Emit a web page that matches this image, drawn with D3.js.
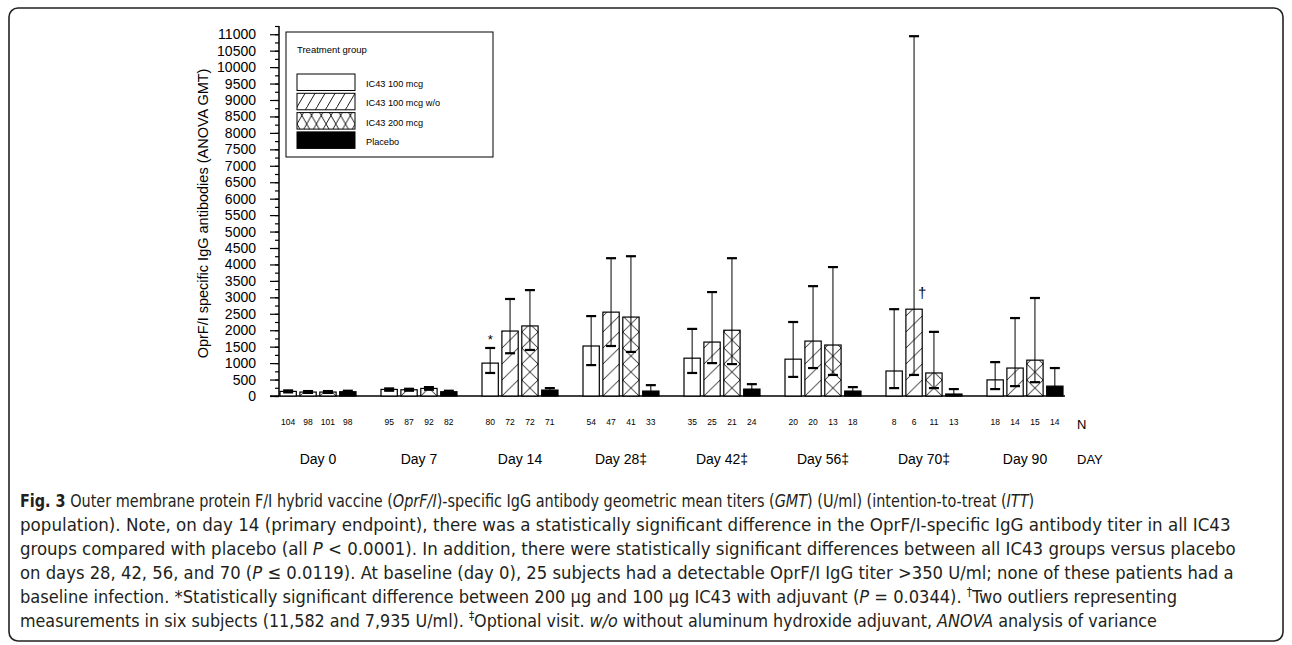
<!DOCTYPE html>
<html>
<head>
<meta charset="utf-8">
<script src="https://cdn.jsdelivr.net/npm/d3@7"></script>
<style>
  html, body { margin: 0; padding: 0; background: #fff; }
  svg { display: block; }
  .chart text { font-family: "Liberation Sans", Arial, sans-serif; fill: #000; }
  .caption text { font-family: "Liberation Sans Narrow", "DejaVu Sans Condensed", sans-serif; fill: #231f20; }
</style>
</head>
<body>
<svg id="fig" width="1292" height="645"></svg>
<script>
// days on the x axis, treatment groups inside each day
const days = ["Day 0", "Day 7", "Day 14", "Day 28\u2021", "Day 42\u2021", "Day 56\u2021", "Day 70\u2021", "Day 90"];
const groups = ["IC43 100 mcg", "IC43 100 mcg w/o", "IC43 200 mcg", "Placebo"];

// GMT (U/ml) per group, one value per day
const gmt100 = [140, 200, 1000, 1520, 1150, 1120, 760, 490];
const gmt100wo = [120, 190, 1975, 2550, 1640, 1670, 2640, 850];
const gmt200 = [120, 230, 2130, 2400, 2000, 1550, 700, 1090];
const gmtPlacebo = [130, 130, 180, 150, 210, 150, 60, 300];

// upper / lower ends of the error bars
const hi100 = [170, 230, 1460, 2430, 2040, 2250, 2640, 1030];
const lo100 = [110, 160, 700, 940, 700, 580, 240, 210];
const hi100wo = [150, 220, 2950, 4190, 3160, 3340, 10940, 2370];
const lo100wo = [95, 160, 1300, 1520, 1000, 850, 640, 300];
const hi200 = [150, 270, 3220, 4250, 4190, 3920, 1950, 2980];
const lo200 = [95, 190, 1400, 1340, 970, 640, 240, 420];
const hiPlacebo = [160, 160, 240, 330, 360, 270, 210, 850];
const loPlacebo = [100, 100, 130, 80, 130, 90, 20, 100];

// subjects per bar
const n100 = [104, 95, 80, 54, 35, 20, 8, 18];
const n100wo = [98, 87, 72, 47, 25, 20, 6, 14];
const n200 = [101, 92, 72, 41, 21, 13, 11, 15];
const nPlacebo = [98, 82, 71, 33, 24, 18, 13, 14];

const yTicks = d3.range(0, 11001, 500);
const yMinor = d3.range(0, 11251, 250);

const series = [
  { key: groups[0], fill: "plain", mean: gmt100, hi: hi100, lo: lo100, n: n100 },
  { key: groups[1], fill: "hatch", mean: gmt100wo, hi: hi100wo, lo: lo100wo, n: n100wo },
  { key: groups[2], fill: "cross", mean: gmt200, hi: hi200, lo: lo200, n: n200 },
  { key: groups[3], fill: "solid", mean: gmtPlacebo, hi: hiPlacebo, lo: loPlacebo, n: nPlacebo }
];

const svg = d3.select("#fig");
const defs = svg.append("defs");

// outer frame of the figure
svg.append("rect")
  .attr("x", 9).attr("y", 8).attr("width", 1274).attr("height", 633)
  .attr("rx", 9).attr("fill", "none").attr("stroke", "#222").attr("stroke-width", 1.6);

const chart = svg.append("g").attr("class", "chart")
  .attr("font-family", "Liberation Sans, Arial, sans-serif");

const y = d3.scaleLinear().domain([0, 11250]).range([396, 26]);
const x0 = d3.scaleBand().domain(days).range([280, 1065]).paddingInner(0.2277);
const x1 = d3.scaleBand().domain(groups).range([0, 76]).paddingInner(0.18);

// y axis: labelled ticks every 500, short ticks every 250
const axisX = 279;
chart.append("g")
  .attr("transform", `translate(${axisX},0)`)
  .call(d3.axisLeft(y).tickValues(yMinor).tickSize(4).tickFormat(""))
  .call((g) => g.select(".domain").remove())
  .selectAll("line").attr("stroke", "#000").attr("stroke-width", 1.2);

const yAxis = chart.append("g")
  .attr("transform", `translate(${axisX},0)`)
  .call(d3.axisLeft(y).tickValues(yTicks).tickSize(9).tickPadding(14)
    .tickSizeOuter(0).tickFormat(d3.format("d")));
yAxis.attr("font-family", null);
yAxis.select(".domain").attr("stroke", "#000").attr("stroke-width", 1.5)
  .attr("d", `M0,${y(11250)}V${y(0)}`);
yAxis.selectAll(".tick line").attr("stroke", "#000").attr("stroke-width", 1.2);
yAxis.selectAll(".tick text").attr("font-size", 14).attr("fill", "#000");

chart.append("text")
  .attr("transform", `translate(208,${y(5550)}) rotate(-90)`)
  .attr("text-anchor", "middle")
  .attr("font-size", 14.5)
  .text("OprF/I specific IgG antibodies (ANOVA GMT)");

// baseline
chart.append("line")
  .attr("x1", 270).attr("x2", 1065).attr("y1", y(0)).attr("y2", y(0))
  .attr("stroke", "#000").attr("stroke-width", 1.5);

// one pattern per hatched bar, so the motif starts at the bar's left edge
function addPattern(id, type, px, w, h) {
  const p = defs.append("pattern")
    .attr("id", id).attr("patternUnits", "userSpaceOnUse")
    .attr("x", px).attr("y", y(0)).attr("width", w).attr("height", h);
  p.append("rect").attr("width", w).attr("height", h).attr("fill", "#fff");
  const st = (sel) => sel.attr("stroke", "#000").attr("stroke-width", 0.9).attr("fill", "none");
  st(p.append("path").attr("d", `M0,${h}L${w},0M${-w},${h}L0,0M${w},${2 * h}L${2 * w},0`));
  if (type === "cross") {
    st(p.append("path").attr("d", `M0,0L${w},${h}M${-w},${-h}L0,0M${w},${h}L${2 * w},${2 * h}`));
  }
}

const bars = [];
series.forEach((s, si) => {
  days.forEach((d, di) => {
    const bx = x0(d) + x1(s.key);
    let fill = s.fill === "solid" ? "#000" : "#fff";
    if (s.fill === "hatch" || s.fill === "cross") {
      const id = `${s.fill}-${di}`;
      addPattern(id, s.fill, bx, x1.bandwidth(), 16);
      fill = `url(#${id})`;
    }
    bars.push({ day: d, di, si, x: bx, v: s.mean[di], hi: s.hi[di], lo: s.lo[di], n: s.n[di], fill });
  });
});

const bw = x1.bandwidth();

chart.append("g").selectAll("rect")
  .data(bars).join("rect")
  .attr("x", (d) => d.x)
  .attr("y", (d) => y(d.v))
  .attr("width", bw)
  .attr("height", (d) => y(0) - y(d.v))
  .attr("fill", (d) => d.fill)
  .attr("stroke", "#000")
  .attr("stroke-width", 1.2);

// error bars: thin stems, heavy caps
const err = chart.append("g").attr("stroke", "#000");
err.selectAll("path.stem")
  .data(bars).join("path").attr("class", "stem")
  .attr("d", (d) => `M${d.x + bw / 2},${y(d.hi)}V${y(d.lo)}`)
  .attr("stroke-width", 1);
err.selectAll("path.cap")
  .data(bars.flatMap((d) => [{ x: d.x, v: d.hi }, { x: d.x, v: d.lo }]))
  .join("path").attr("class", "cap")
  .attr("d", (d) => `M${d.x + bw / 2 - 5},${y(d.v)}H${d.x + bw / 2 + 5}`)
  .attr("stroke-width", 2.2);

// significance marks
const star = bars.find((d) => d.si === 0 && d.di === 2);
chart.append("text")
  .attr("x", star.x + bw / 2).attr("y", y(star.hi) - 4)
  .attr("text-anchor", "middle").attr("font-size", 13).text("*");
const dag = bars.find((d) => d.si === 1 && d.di === 6);
chart.append("text")
  .attr("x", dag.x + bw / 2 + 8).attr("y", y(dag.v) - 11)
  .attr("text-anchor", "middle").attr("font-size", 15).text("\u2020");

// N row and day labels
chart.append("g").selectAll("text")
  .data(bars).join("text")
  .attr("x", (d) => d.x + bw / 2)
  .attr("y", 425)
  .attr("text-anchor", "middle")
  .attr("font-size", 8.5)
  .text((d) => d.n);

chart.append("g").selectAll("text")
  .data(days).join("text")
  .attr("x", (d) => x0(d) + 38)
  .attr("y", 464)
  .attr("text-anchor", "middle")
  .attr("font-size", 14)
  .text((d) => d);

chart.append("text").attr("x", 1077).attr("y", 429).attr("font-size", 13).text("N");
chart.append("text").attr("x", 1077).attr("y", 464).attr("font-size", 13).text("DAY");

// legend
const leg = chart.append("g");
leg.append("rect")
  .attr("x", 286).attr("y", 32).attr("width", 207).attr("height", 125)
  .attr("fill", "#fff").attr("stroke", "#000").attr("stroke-width", 1);
leg.append("text").attr("x", 297).attr("y", 53).attr("font-size", 9.5).text("Treatment group");
addPattern("leg-hatch", "hatch", 297, 10, 17);
addPattern("leg-cross", "cross", 297, 9.7, 17);
const legFill = { plain: "#fff", hatch: "url(#leg-hatch)", cross: "url(#leg-cross)", solid: "#000" };
series.forEach((s, i) => {
  const top = 74 + i * 19.3;
  leg.append("rect")
    .attr("x", 297).attr("y", top).attr("width", 58).attr("height", 16.5)
    .attr("fill", legFill[s.fill]).attr("stroke", "#000").attr("stroke-width", 1);
  leg.append("text").attr("x", 366).attr("y", top + 13).attr("font-size", 9.2).text(s.key);
});

// caption: each line is squeezed horizontally to the width it has in the figure
const cap = svg.append("g").attr("class", "caption");
const lines = [
  { end: 1035, parts: [["Fig. 3", "b"], [" Outer membrane protein F/I hybrid vaccine ("], ["OprF/I", "i"], [")-specific IgG antibody geometric mean titers ("], ["GMT", "i"], [") (U/ml) (intention-to-treat ("], ["ITT", "i"], [")"]] },
  { end: 1232, parts: [["population). Note, on day 14 (primary endpoint), there was a statistically significant difference in the OprF/I-specific IgG antibody titer in all IC43"]] },
  { end: 1236, parts: [["groups compared with placebo (all "], ["P", "i"], [" < 0.0001). In addition, there were statistically significant differences between all IC43 groups versus placebo"]] },
  { end: 1234, parts: [["on days 28, 42, 56, and 70 ("], ["P", "i"], [" \u2264 0.0119). At baseline (day 0), 25 subjects had a detectable OprF/I IgG titer >350 U/ml; none of these patients had a"]] },
  { end: 1178, parts: [["baseline infection. *Statistically significant difference between 200 \u03bcg and 100 \u03bcg IC43 with adjuvant ("], ["P", "i"], [" = 0.0344). "], ["\u2020", "sup"], ["Two outliers representing"]] },
  { end: 1158, parts: [["measurements in six subjects (11,582 and 7,935 U/ml). "], ["\u2021", "sup"], ["Optional visit. "], ["w/o", "i"], [" without aluminum hydroxide adjuvant, "], ["ANOVA", "i"], [" analysis of variance"]] }
];
lines.forEach((ln, i) => {
  const t = cap.append("text").attr("x", 0).attr("y", 0).attr("font-size", 18.5);
  let raised = false;
  ln.parts.forEach(([s, f]) => {
    const sp = t.append("tspan").text(s);
    if (f === "b") sp.attr("font-weight", "bold");
    if (f === "i") sp.attr("font-style", "italic");
    if (f === "sup") { sp.attr("font-size", 12).attr("dy", -7); raised = true; }
    else if (raised) { sp.attr("dy", 7); raised = false; }
  });
  const k = (ln.end - 20) / t.node().getComputedTextLength();
  t.attr("transform", `translate(20,${507 + i * 24}) scale(${k},1)`);
});
</script>
</body>
</html>
